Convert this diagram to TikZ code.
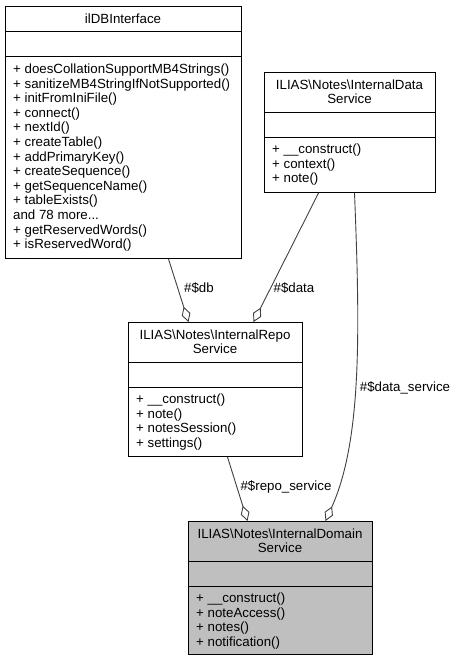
\documentclass[tikz,border=0pt]{standalone}
\usepackage{fontspec}
\setmainfont{Liberation Sans}
\usetikzlibrary{arrows.meta}
\begin{document}
\begin{tikzpicture}[x=1pt,y=-1pt,
  box/.style={draw=black, line width=1pt, inner sep=0pt, anchor=north west},
  sep/.style={draw=black, line width=1pt},
  txt/.style={font=\fontsize{13.3}{14.6}\selectfont, inner sep=0pt},
  member/.style={txt, anchor=base west},
  title/.style={txt, anchor=base},
  edge/.style={draw=black!75, line width=0.9pt, -{Diamond[open, length=16pt, width=9pt]}},
  elabel/.style={txt}
]
\useasboundingbox (0,0) rectangle (455,661);

% ilDBInterface
\node[box, minimum width=236pt, minimum height=252pt] (db) at (5,6) {};
\draw[sep] (5,32) -- (241,32);
\draw[sep] (5,57) -- (241,57);
\node[title] (dbt) at (123,23.5) {ilDBInterface};
\foreach \m [count=\i from 0] in {+ doesCollationSupportMB4Strings(), + sanitizeMB4StringIfNotSupported(), + initFromIniFile(), + connect(), + nextId(), + createTable(), + addPrimaryKey(), + createSequence(), + getSequenceName(), + tableExists(), {and 78 more{.}{.}{.}}, + getReservedWords(), + isReservedWord()}
  \node[member] (dbm\i) at (13,73.5+\i*14.6) {\m};

% InternalDataService
\node[box, minimum width=171pt, minimum height=120pt] (data) at (264,72) {};
\draw[sep] (264,112) -- (435,112);
\draw[sep] (264,137) -- (435,137);
\node[title] (datat1) at (349.5,89) {ILIAS\textbackslash Notes\textbackslash InternalData};
\node[title] (datat2) at (349.5,103.6) {Service};
\foreach \m [count=\i from 0] in {+ \_\_construct(), + context(), + note()}
  \node[member] (datam\i) at (272,153.5+\i*14.6) {\m};

% InternalRepoService
\node[box, minimum width=174pt, minimum height=134pt] (repo) at (128,322) {};
\draw[sep] (128,362) -- (302,362);
\draw[sep] (128,387) -- (302,387);
\node[title] (repot1) at (215,339) {ILIAS\textbackslash Notes\textbackslash InternalRepo};
\node[title] (repot2) at (215,353.6) {Service};
\foreach \m [count=\i from 0] in {+ \_\_construct(), + note(), + notesSession(), + settings()}
  \node[member] (repom\i) at (136,403.5+\i*14.6) {\m};

% InternalDomainService
\node[box, fill=black!25, minimum width=184pt, minimum height=133pt] (dom) at (188,521) {};
\draw[sep] (188,561) -- (372,561);
\draw[sep] (188,586) -- (372,586);
\node[title] (domt1) at (280,538) {ILIAS\textbackslash Notes\textbackslash InternalDomain};
\node[title] (domt2) at (280,552.6) {Service};
\foreach \m [count=\i from 0] in {+ \_\_construct(), + noteAccess(), + notes(), + notification()}
  \node[member] (domm\i) at (196,602.5+\i*14.6) {\m};

% edges
\draw[edge] ([xshift=45pt]db.south) -- ([xshift=-27pt]repo.north);
\node[elabel] (ldb) at (199,288) {\#\$db};
\draw[edge] ([xshift=-31.5pt]data.south) -- ([xshift=38pt]repo.north);
\node[elabel] (ldata) at (294,288) {\#\$data};
\draw[edge] ([xshift=12pt]repo.south) -- ([xshift=-33pt]dom.north);
\node[elabel] (lrepo) at (286,487) {\#\$repo\_service};
\draw[edge] ([xshift=4.5pt]data.south) .. controls (360,330) and (362,440) .. ([xshift=45pt]dom.north);
\node[elabel] (ldserv) at (405,388) {\#\$data\_service};
\end{tikzpicture}
\end{document}
